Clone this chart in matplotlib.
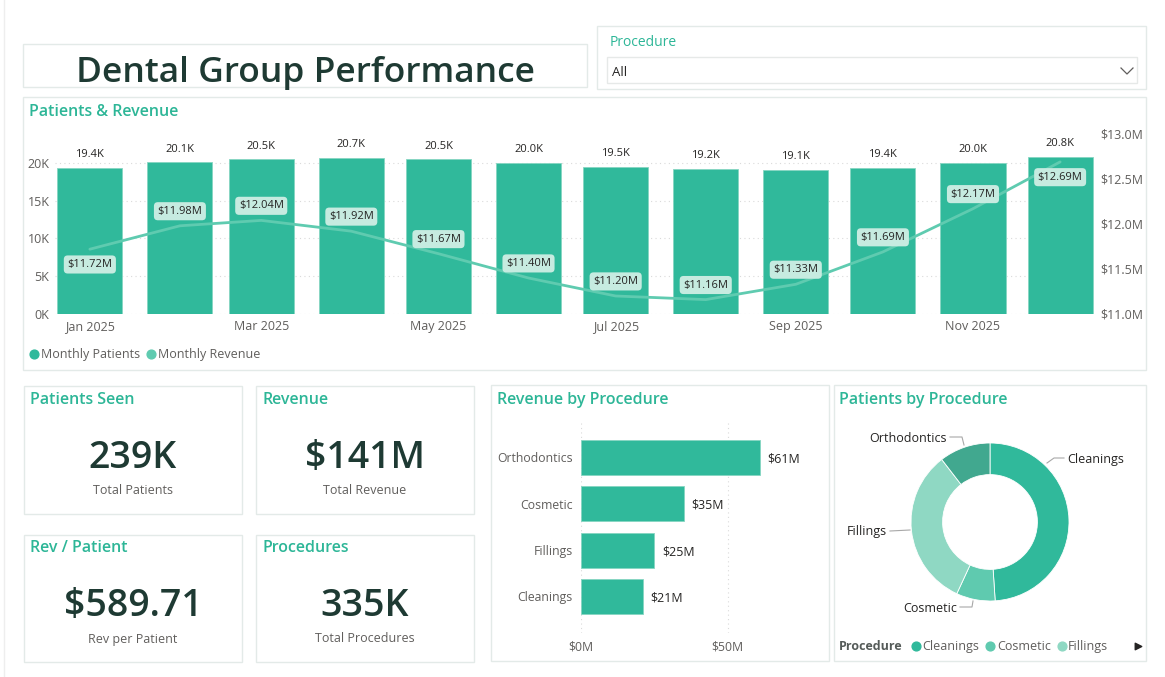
import matplotlib
matplotlib.use('Agg')
import matplotlib.pyplot as plt
import matplotlib.dates as mdates
from matplotlib.patches import Rectangle
from matplotlib.ticker import FixedLocator, FuncFormatter
import pandas as pd

plt.rcParams['font.family'] = ['Open Sans', 'DejaVu Sans']

W, H, DPI = 1165, 677, 100

# ---------------- data ----------------
months = pd.date_range('2025-01-01', periods=12, freq='MS')
monthly_patients_k = [19.4, 20.1, 20.5, 20.7, 20.5, 20.0, 19.5, 19.2, 19.1, 19.4, 20.0, 20.8]
monthly_revenue_m = [11.72, 11.98, 12.04, 11.92, 11.67, 11.40, 11.20, 11.16, 11.33, 11.69, 12.17, 12.69]
rev_label_side = ['below'] + ['above'] * 10 + ['below']

rev_proc_names = ['Orthodontics', 'Cosmetic', 'Fillings', 'Cleanings']
rev_proc_values_m = [61, 35, 25, 21]

pat_proc_names = ['Cleanings', 'Cosmetic', 'Fillings', 'Orthodontics']
pat_proc_values_k = [117, 19, 78, 25]

kpi_titles = ['Patients Seen', 'Revenue', 'Rev / Patient', 'Procedures']
kpi_values = ['239K', '$141M', '$589.71', '335K']
kpi_subtitles = ['Total Patients', 'Total Revenue', 'Rev per Patient', 'Total Procedures']

# ---------------- style ----------------
TEAL = '#2DB697'
BAR = '#30B99B'
BAR_EDGE = '#86D6C2'
LINE = '#5FCBB0'
LBL_BG = '#C6EBE0'
DARK = '#1E3A33'
GRAY = '#605E5C'
TXT = '#252423'
BORDER = '#E3EAE8'
DONUT_COLORS = ['#30B99B', '#5FCAAF', '#8FD8C3', '#41A88F']
YO = 1.5  # vertical text nudge (px)

fig = plt.figure(figsize=(W / DPI, H / DPI), dpi=DPI)
fig.patch.set_facecolor('white')

bg = fig.add_axes([0, 0, 1, 1], zorder=0)
bg.set_xlim(0, W)
bg.set_ylim(H, 0)
bg.axis('off')


def panel(x0, y0, x1, y1):
    bg.add_patch(Rectangle((x0, y0), x1 - x0, y1 - y0, fc='white', ec=BORDER, lw=1.0))


def axes_px(x0, y0, x1, y1, z=2):
    a = fig.add_axes([x0 / W, 1 - y1 / H, (x1 - x0) / W, (y1 - y0) / H], zorder=z)
    a.set_facecolor('none')
    return a


def label(x, y, s, **kw):
    return bg.text(x, y + YO, s, **kw)


# page edge
bg.plot([4, 4], [0, H], color='#EEEEEE', lw=1)

# ---------------- title ----------------
panel(23, 44, 587, 87)
t = bg.text(306, 82, 'Dental Group Performance', ha='center', va='baseline',
            fontsize=25.5, fontweight='semibold', color=DARK)
clip = Rectangle((23, 44), 564, 42, transform=bg.transData)
t.set_clip_path(clip)

# ---------------- slicer ----------------
panel(597, 26, 1146, 89)
label(610, 41, 'Procedure', ha='left', va='center', fontsize=10, color=TEAL)
bg.add_patch(Rectangle((607, 57), 530, 26, fc='white', ec='#E6E9E8', lw=1))
label(612, 71, 'All', ha='left', va='center', fontsize=9.5, color=TXT)
bg.plot([1121, 1127, 1133], [68, 74, 68], color='#605E5C', lw=0.9)

# ---------------- Patients & Revenue ----------------
panel(23, 97, 1146, 370)
label(29, 110, 'Patients & Revenue', ha='left', va='center', fontsize=11.5,
      fontweight='semibold', color=TEAL)

ax = axes_px(55, 134, 1095, 314)
patients = [p * 1000 for p in monthly_patients_k]
ax.bar(months, patients, width=22.4, color=BAR, edgecolor=BAR_EDGE, lw=0.6, zorder=2)
ax.set_xlim(pd.Timestamp('2024-12-20'), pd.Timestamp('2025-12-13'))
ax.set_ylim(0, 23841)
ax.yaxis.set_major_locator(FixedLocator([0, 5000, 10000, 15000, 20000]))
ax.yaxis.set_major_formatter(FuncFormatter(lambda v, p: f'{v / 1000:.0f}K'))
ax.xaxis.set_major_locator(mdates.MonthLocator(bymonth=[1, 3, 5, 7, 9, 11]))
ax.xaxis.set_major_formatter(mdates.DateFormatter('%b %Y'))
ax.tick_params(axis='both', length=0, labelsize=9, labelcolor=GRAY)
ax.tick_params(axis='y', pad=4)
ax.tick_params(axis='x', pad=4.5)
ax.grid(axis='y', color='#DADADA', linestyle=(0, (1, 3)), lw=0.8, zorder=0)
for s in ax.spines.values():
    s.set_visible(False)
for m, p in zip(months, patients):
    ax.annotate(f'{p / 1000:.1f}K', (m, p), xytext=(0, 9.5), textcoords='offset points',
                ha='center', va='center', fontsize=8, color=TXT)

ax2 = ax.twinx()
ax2.set_zorder(3)
ax2.set_facecolor('none')
ax2.plot(months, monthly_revenue_m, color=LINE, lw=2, solid_capstyle='round')
ax2.set_ylim(11.0, 13.0)
ax2.yaxis.set_major_locator(FixedLocator([11.0, 11.5, 12.0, 12.5, 13.0]))
ax2.yaxis.set_major_formatter(FuncFormatter(lambda v, p: f'${v:.1f}M'))
ax2.tick_params(axis='y', length=0, labelsize=9, labelcolor=GRAY, pad=4)
for s in ax2.spines.values():
    s.set_visible(False)
for m, r, side in zip(months, monthly_revenue_m, rev_label_side):
    dy = 10.5 if side == 'above' else -11
    ax2.annotate(f'${r:.2f}M', (m, r), xytext=(0, dy), textcoords='offset points',
                 ha='center', va='center', fontsize=8, color=TXT,
                 bbox=dict(boxstyle='round,pad=0.32,rounding_size=0.35', fc=LBL_BG, ec='none'))

# legend
bg.scatter([34], [353.5], s=40, color=BAR, zorder=3)
label(41, 353, 'Monthly Patients', ha='left', va='center', fontsize=9, color=GRAY)
bg.scatter([151], [353.5], s=40, color=LINE, zorder=3)
label(158, 353, 'Monthly Revenue', ha='left', va='center', fontsize=9, color=GRAY)

# ---------------- KPI cards ----------------
cards = [(24, 386, 242, 514), (256, 386, 474, 514), (24, 535, 242, 662), (256, 535, 474, 662)]
for (x0, y0, x1, y1), title, val, sub in zip(cards, kpi_titles, kpi_values, kpi_subtitles):
    panel(x0, y0, x1, y1)
    cx = (x0 + x1) / 2
    label(x0 + 6, y0 + 12, title, ha='left', va='center', fontsize=11.5,
          fontweight='semibold', color=TEAL)
    label(cx, y0 + 70, val, ha='center', va='center', fontsize=27,
          fontweight='semibold', color=DARK)
    label(cx, y0 + 102.5, sub, ha='center', va='center', fontsize=9, color=GRAY)

# ---------------- Revenue by Procedure ----------------
panel(491, 385, 829, 661)
label(497, 399, 'Revenue by Procedure', ha='left', va='center', fontsize=11.5,
      fontweight='semibold', color=TEAL)
rax = axes_px(581, 423, 805, 633)
ypos = list(range(len(rev_proc_names)))
rax.barh(ypos, rev_proc_values_m, height=0.755, color=BAR, edgecolor=BAR_EDGE, lw=0.6, zorder=2)
rax.set_ylim(3.79, -0.745)
rax.set_xlim(0, 224 / 2.93)
rax.set_yticks(ypos)
rax.set_yticklabels(rev_proc_names)
rax.xaxis.set_major_locator(FixedLocator([0, 50]))
rax.xaxis.set_major_formatter(FuncFormatter(lambda v, p: f'${v:.0f}M'))
rax.tick_params(axis='both', length=0, labelsize=8.8, labelcolor=GRAY)
rax.tick_params(axis='y', pad=6)
rax.tick_params(axis='x', pad=5.5)
rax.grid(axis='x', color='#DADADA', linestyle=(0, (1, 3)), lw=0.8, zorder=0)
for s in rax.spines.values():
    s.set_visible(False)
for y, v in zip(ypos, rev_proc_values_m):
    rax.annotate(f'${v}M', (v, y), xytext=(5.5, -1), textcoords='offset points',
                 ha='left', va='center', fontsize=9, color=TXT)

# ---------------- Patients by Procedure ----------------
panel(834, 385, 1146, 661)
label(839, 399, 'Patients by Procedure', ha='left', va='center', fontsize=11.5,
      fontweight='semibold', color=TEAL)
R = 79.0
dax = axes_px(840, 412, 1140, 632)
dax.pie(pat_proc_values_k, radius=1, startangle=90, counterclock=False, colors=DONUT_COLORS,
        wedgeprops=dict(width=0.4, edgecolor='white', linewidth=0.6))
dax.set_aspect('auto')
dax.set_xlim(-150 / R, 150 / R)
dax.set_ylim(-110 / R, 110 / R)
dax.axis('off')


def u(px, py):
    return ((px - 990) / R, (522 - py) / R)


leaders = {
    'Cleanings': ([(1047, 463), (1054, 458), (1064, 458)], (1067, 460), 'left'),
    'Orthodontics': ([(964, 445), (962, 437), (950, 437)], (947, 439), 'right'),
    'Fillings': ([(910, 530), (890, 531)], (887, 532), 'right'),
    'Cosmetic': ([(973, 601), (972, 607), (960, 607)], (957, 609), 'right'),
}
for name in pat_proc_names:
    pts, lab, ha = leaders[name]
    xs, ys = zip(*[u(*p) for p in pts])
    dax.plot(xs, ys, color='#A8A8A8', lw=0.8, clip_on=False)
    lx, ly = u(*lab)
    dax.text(lx, ly, name, ha=ha, va='center', fontsize=9, color=TXT, clip_on=False)

label(839, 645, 'Procedure', ha='left', va='center', fontsize=9, fontweight='bold', color='#555B59')
leg_x = [(916, 922), (990, 997), (1062, 1068)]
for (dx_, tx_), name, col in zip(leg_x, pat_proc_names[:3], DONUT_COLORS[:3]):
    bg.scatter([dx_], [645.5], s=40, color=col, zorder=3)
    label(tx_, 645, name, ha='left', va='center', fontsize=9, color=GRAY)
bg.scatter([1138], [645.5], s=22, marker='>', color='#252423', zorder=3)

fig.savefig('out.png', dpi=DPI, facecolor='white')
